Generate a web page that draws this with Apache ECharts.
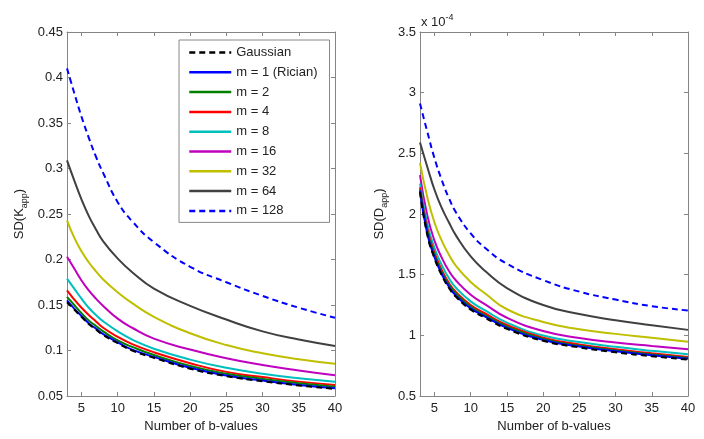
<!DOCTYPE html>
<html>
<head>
<meta charset="utf-8">
<script src="https://cdn.jsdelivr.net/npm/echarts@6/dist/echarts.min.js"></script>
<style>
html,body{margin:0;padding:0;background:#fff;}
#chart{width:704px;height:439px;}
</style>
</head>
<body>
<div id="chart"></div>
<script>
// ---- data ----
const xs = [3,4,5,6,7,8,10,12,15,20,25,30,35,40];
const seriesNames = ['Gaussian','m = 1 (Rician)','m = 2','m = 4','m = 8','m = 16','m = 32','m = 64','m = 128'];
const xTicks = [5,10,15,20,25,30,35,40];

// SD(K_app)
const kGauss = [0.153,0.145,0.137,0.129,0.123,0.117,0.108,0.100,0.092,0.080,0.0718,0.0663,0.0616,0.0578];
const kM1    = [0.155,0.146,0.138,0.130,0.124,0.118,0.109,0.101,0.093,0.081,0.0725,0.067,0.0622,0.0584];
const kM2    = [0.159,0.150,0.141,0.133,0.127,0.121,0.111,0.104,0.095,0.083,0.0745,0.0688,0.064,0.0602];
const kM4    = [0.166,0.156,0.147,0.139,0.132,0.125,0.115,0.107,0.098,0.086,0.0765,0.0708,0.0658,0.0621];
const kM8    = [0.179,0.168,0.157,0.147,0.139,0.132,0.121,0.112,0.102,0.090,0.081,0.0745,0.0695,0.0657];
const kM16   = [0.203,0.190,0.177,0.166,0.157,0.149,0.135,0.125,0.113,0.101,0.0915,0.084,0.078,0.0727];
const kM32   = [0.243,0.224,0.209,0.197,0.187,0.178,0.164,0.152,0.137,0.119,0.106,0.097,0.0905,0.0855];
const kM64   = [0.309,0.287,0.266,0.248,0.233,0.220,0.201,0.186,0.168,0.149,0.134,0.121,0.112,0.105];
const kM128  = [0.410,0.383,0.357,0.334,0.313,0.295,0.263,0.242,0.219,0.192,0.175,0.160,0.147,0.136];

// SD(D_app) in units of 1e-4
const dGauss = [2.18,1.83,1.635,1.495,1.39,1.315,1.212,1.145,1.053,0.955,0.90,0.86,0.828,0.80];
const dM1    = [2.19,1.84,1.645,1.505,1.40,1.325,1.222,1.155,1.062,0.962,0.908,0.868,0.836,0.808];
const dM2    = [2.20,1.86,1.66,1.52,1.415,1.34,1.235,1.165,1.072,0.97,0.915,0.876,0.842,0.814];
const dM4    = [2.22,1.88,1.68,1.54,1.43,1.355,1.25,1.18,1.085,0.98,0.925,0.885,0.852,0.822];
const dM8    = [2.25,1.92,1.72,1.58,1.47,1.39,1.28,1.205,1.105,0.998,0.945,0.905,0.872,0.844];
const dM16   = [2.32,1.99,1.78,1.64,1.53,1.45,1.335,1.255,1.145,1.035,0.978,0.94,0.912,0.886];
const dM32   = [2.42,2.14,1.93,1.78,1.665,1.57,1.44,1.345,1.215,1.11,1.05,1.012,0.98,0.948];
const dM64   = [2.59,2.39,2.20,2.05,1.93,1.82,1.65,1.53,1.39,1.25,1.175,1.125,1.084,1.045];
const dM128  = [2.91,2.68,2.46,2.28,2.13,2.01,1.84,1.72,1.59,1.455,1.36,1.295,1.24,1.205];

const kData = [kGauss,kM1,kM2,kM4,kM8,kM16,kM32,kM64,kM128];
const dData = [dGauss,dM1,dM2,dM4,dM8,dM16,dM32,dM64,dM128];

// ---- styles ----
const colors = ['#000000','#0000ff','#007f00','#ff0000','#00bfbf','#bf00bf','#bfbf00','#404040','#0000ff'];
const dashed = [true,false,false,false,false,false,false,false,true];
const axisColor = '#858585';
const textColor = '#222';
const font = 'Liberation Sans, Arial, sans-serif';

function pairs(ys){ return xs.map((x,i)=>[x,ys[i]]); }

function makeSeries(data, xi, yi){
  return data.map((ys,i)=>({
    name: seriesNames[i],
    type: 'line',
    xAxisIndex: xi, yAxisIndex: yi,
    data: pairs(ys),
    symbol: 'none',
    smooth: 0.5,
    color: colors[i],
    lineStyle: {color: colors[i], width: 2, type: dashed[i] ? [6,4] : 'solid'},
    z: 2 + (8 - i) * 0.01,
    animation: false
  }));
}

function bottomX(grid, nameGap){
  return {
    type: 'value', gridIndex: grid, min: 3, max: 40, position: 'bottom',
    name: 'Number of b-values', nameLocation: 'middle', nameGap: nameGap,
    nameTextStyle: {fontFamily: font, fontSize: 13, color: textColor},
    axisLine: {show: true, onZero: false, lineStyle: {color: axisColor, width: 1}},
    axisTick: {show: true, inside: true, length: 4, customValues: xTicks, lineStyle: {color: axisColor}},
    axisLabel: {show: true, customValues: xTicks, margin: 6, fontFamily: font, fontSize: 13, color: textColor},
    splitLine: {show: false}
  };
}
function topX(grid){
  return {
    type: 'value', gridIndex: grid, min: 3, max: 40, position: 'top',
    axisLine: {show: true, onZero: false, lineStyle: {color: axisColor, width: 1}},
    axisTick: {show: true, inside: true, length: 4, customValues: xTicks, lineStyle: {color: axisColor}},
    axisLabel: {show: false},
    splitLine: {show: false}
  };
}
function leftY(grid, min, max, interval, name, gap, dec){
  return {
    type: 'value', gridIndex: grid, min: min, max: max, interval: interval, position: 'left',
    name: name, nameLocation: 'middle', nameGap: gap, nameRotate: 90,
    nameTextStyle: {fontFamily: font, fontSize: 13, color: textColor,
      rich: {
        a: {fontFamily: font, fontSize: 13, color: textColor, lineHeight: 20},
        s: {fontFamily: font, fontSize: 9, color: textColor, lineHeight: 10, verticalAlign: 'bottom'}
      }},
    axisLine: {show: true, onZero: false, lineStyle: {color: axisColor, width: 1}},
    axisTick: {show: true, inside: true, length: 4, lineStyle: {color: axisColor}},
    axisLabel: {show: true, margin: 4, fontFamily: font, fontSize: 13, color: textColor,
      formatter: v => String(parseFloat(v.toFixed(dec)))},
    splitLine: {show: false}
  };
}
function rightY(grid, min, max, interval){
  return {
    type: 'value', gridIndex: grid, min: min, max: max, interval: interval, position: 'right',
    axisLine: {show: true, onZero: false, lineStyle: {color: axisColor, width: 1}},
    axisTick: {show: true, inside: true, length: 4, lineStyle: {color: axisColor}},
    axisLabel: {show: false},
    splitLine: {show: false}
  };
}

const chart = echarts.init(document.getElementById('chart'), null, {renderer: 'canvas'});
chart.setOption({
  backgroundColor: '#ffffff',
  animation: false,
  textStyle: {fontFamily: font},
  grid: [
    {left: 67, top: 32, width: 268, height: 364},
    {left: 420, top: 32, width: 268, height: 364}
  ],
  xAxis: [bottomX(0, 22), topX(0), bottomX(1, 22), topX(1)],
  yAxis: [
    leftY(0, 0.05, 0.45, 0.05, '{a|SD(K}{s|app}{a|)}', 38, 2), rightY(0, 0.05, 0.45, 0.05),
    leftY(1, 0.5, 3.5, 0.5, '{a|SD(D}{s|app}{a|)}', 31, 1), rightY(1, 0.5, 3.5, 0.5)
  ],
  legend: {
    show: true, orient: 'vertical', left: 179, top: 40,
    data: seriesNames,
    itemWidth: 42, itemHeight: 14, itemGap: 6.8,
    padding: [6, 12, 5, 9],
    backgroundColor: '#ffffff', borderColor: '#888888', borderWidth: 1,
    itemStyle: {opacity: 0},
    lineStyle: {width: 2.5},
    textStyle: {fontFamily: font, fontSize: 13, color: textColor},
    selectedMode: false
  },
  graphic: [{
    type: 'text', left: 421, top: 13,
    style: {
      text: '{a|x 10}{b|-4}',
      rich: {
        a: {fontFamily: font, fontSize: 13, fill: textColor, lineHeight: 18},
        b: {fontFamily: font, fontSize: 9, fill: textColor, lineHeight: 10, verticalAlign: 'top'}
      }
    }
  }],
  series: makeSeries(kData, 0, 0).concat(makeSeries(dData, 2, 2))
});
</script>
</body>
</html>
